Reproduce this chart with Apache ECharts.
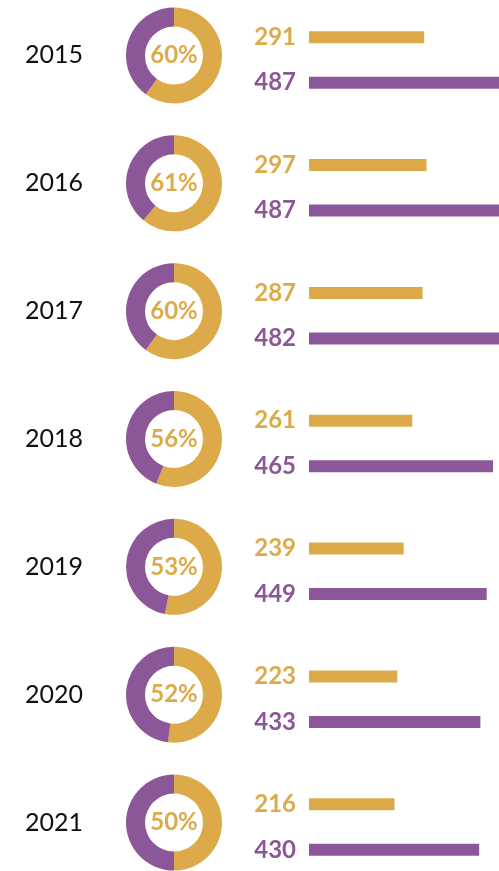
<!DOCTYPE html>
<html>
<head>
<meta charset="utf-8">
<script src="https://cdn.jsdelivr.net/npm/echarts@6/dist/echarts.min.js"></script>
<style>
  html, body { margin: 0; padding: 0; background: #ffffff; }
  #chart { width: 499px; height: 871px; }
</style>
</head>
<body>
<div id="chart"></div>
<script>
  // 数据
  const years = ['2015', '2016', '2017', '2018', '2019', '2020', '2021']
  const goldValues = [291, 297, 287, 261, 239, 223, 216]
  const purpleValues = [487, 487, 482, 465, 449, 433, 430]
  const percents = [60, 61, 60, 56, 53, 52, 50]

  const GOLD = '#DCAA49'
  const PURPLE = '#8C5798'
  const FONT = 'Lato, "DejaVu Sans", sans-serif'

  // 布局
  const gridTop = -4
  const gridBottom = -20
  const rowH = (871 - gridTop - gridBottom) / years.length

  const chart = echarts.init(document.getElementById('chart'), null, { renderer: 'canvas' })

  // 每年一个环形图
  const pieSeries = years.map((y, i) => ({
    type: 'pie',
    silent: true,
    radius: [29, 48],
    center: [174, gridTop + rowH * (i + 0.5) - 4.5],
    startAngle: 90,
    clockwise: true,
    animation: false,
    label: { show: false },
    labelLine: { show: false },
    emphasis: { disabled: true },
    data: [
      {
        value: percents[i],
        itemStyle: { color: GOLD },
        label: {
          show: true,
          position: 'center',
          formatter: percents[i] + '%',
          color: GOLD,
          fontSize: 24,
          fontWeight: 'bold',
          fontFamily: FONT
        }
      },
      { value: 100 - percents[i], itemStyle: { color: PURPLE } }
    ]
  }))

  chart.setOption({
    animation: false,
    grid: {
      left: 309,
      right: 0,
      top: gridTop,
      bottom: gridBottom,
      outerBoundsMode: 'none',
      containLabel: false
    },
    xAxis: {
      type: 'value',
      min: 0,
      max: 480,
      show: false
    },
    yAxis: {
      type: 'category',
      inverse: true,
      data: years,
      axisLine: { show: false },
      axisTick: { show: false },
      splitLine: { show: false },
      axisLabel: {
        margin: 284,
        align: 'left',
        formatter: '{y|{value}}',
        rich: {
          y: {
            color: '#111111',
            fontSize: 25,
            fontFamily: FONT,
            padding: [0, 0, 9, 0]
          }
        }
      }
    },
    series: [
      {
        type: 'bar',
        data: goldValues,
        barWidth: 12,
        barGap: '279%',
        clip: true,
        itemStyle: { color: GOLD },
        label: {
          show: true,
          position: 'left',
          distance: 13,
          color: GOLD,
          fontSize: 24,
          fontWeight: 'bold',
          fontFamily: FONT
        }
      },
      {
        type: 'bar',
        data: purpleValues,
        barWidth: 12,
        clip: true,
        itemStyle: { color: PURPLE },
        label: {
          show: true,
          position: 'left',
          distance: 13,
          color: PURPLE,
          fontSize: 24,
          fontWeight: 'bold',
          fontFamily: FONT
        }
      },
      ...pieSeries
    ]
  })
</script>
</body>
</html>
